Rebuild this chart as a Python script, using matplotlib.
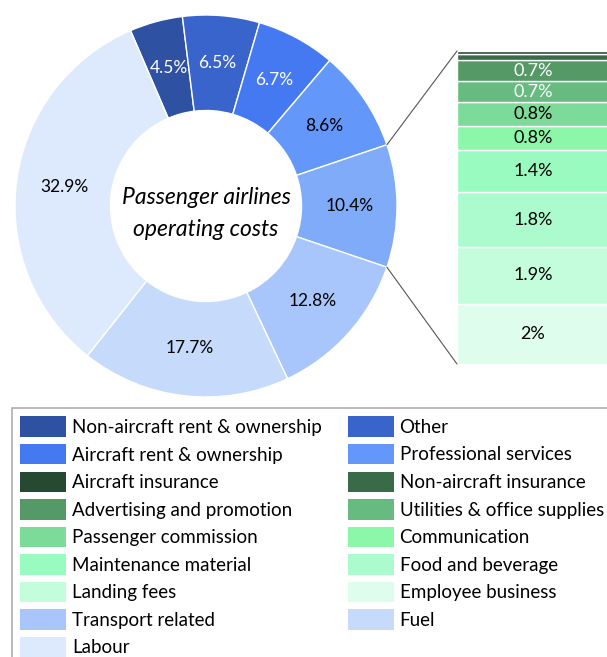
import matplotlib.pyplot as plt
from matplotlib.patches import ConnectionPatch, Patch
import numpy as np

plt.rcParams['font.family'] = ['Lato', 'DejaVu Sans']

# donut slices, clockwise from the top
pie_labels = ['Non-aircraft rent & ownership', 'Other', 'Aircraft rent & ownership',
              'Professional services', 'Smaller items', 'Transport related', 'Fuel', 'Labour']
pie_values = [4.5, 6.5, 6.7, 8.6, 10.4, 12.8, 17.7, 32.9]
pie_colors = ['#2e51a2', '#3964cc', '#4479f2', '#6398fa', '#7fabf8', '#a8c6fb', '#c6dafb', '#dde9fc']
pie_text = ['white', 'white', 'white', 'black', 'black', 'black', 'black', 'black']

# breakdown of the 10.4% slice, bottom to top
bar_labels = ['Employee business', 'Landing fees', 'Food and beverage', 'Maintenance material',
              'Communication', 'Passenger commission', 'Utilities & office supplies',
              'Advertising and promotion', 'Non-aircraft insurance', 'Aircraft insurance']
bar_values = [2, 1.9, 1.8, 1.4, 0.8, 0.8, 0.7, 0.7, 0.2, 0.1]
bar_colors = ['#dffdec', '#c4fddc', '#acfbcf', '#9afbc0', '#8cf7a8', '#7cdb98',
              '#67bb80', '#559966', '#3a6b48', '#254a31']
bar_text = ['black', 'black', 'black', 'black', 'black', 'black', 'white', 'white', None, None]

legend_order = ['Non-aircraft rent & ownership', 'Other', 'Aircraft rent & ownership',
                'Professional services', 'Aircraft insurance', 'Non-aircraft insurance',
                'Advertising and promotion', 'Utilities & office supplies', 'Passenger commission',
                'Communication', 'Maintenance material', 'Food and beverage', 'Landing fees',
                'Employee business', 'Transport related', 'Fuel', 'Labour']

W, H = 607, 657
fig = plt.figure(figsize=(W / 100, H / 100), dpi=100)

# donut
cx, cy, r = 206, 206, 191
ax = fig.add_axes([(cx - r) / W, (H - cy - r) / H, 2 * r / W, 2 * r / H])

start = 360 * (sum(pie_values[:4]) + pie_values[4] / 2) / sum(pie_values)
wedges, _ = ax.pie(pie_values, colors=pie_colors, startangle=start, counterclock=False,
                   radius=1, wedgeprops=dict(width=0.5, edgecolor='white', linewidth=1))
ax.set_xlim(-1, 1)
ax.set_ylim(-1, 1)
ax.axis('off')
for w, v, tc in zip(wedges, pie_values, pie_text):
    ang = np.deg2rad((w.theta1 + w.theta2) / 2)
    ax.text(0.75 * np.cos(ang), 0.75 * np.sin(ang), f'{v:g}%', ha='center', va='center',
            fontsize=12.5, color=tc)
ax.text(0.0, -0.04, 'Passenger airlines\noperating costs', ha='center', va='center',
        fontsize=16.5, style='italic', linespacing=1.65)

# stacked bar
bx0, bx1, by0, by1 = 457, 609, 51, 364
bax = fig.add_axes([bx0 / W, (H - by1) / H, (bx1 - bx0) / W, (by1 - by0) / H])
bottom = 0
for v, c, tc in zip(bar_values, bar_colors, bar_text):
    rects = bax.bar(0, v, bottom=bottom, width=1, color=c, edgecolor='white', linewidth=1)
    if tc:
        bax.bar_label(rects, labels=[f'{v:g}%'], label_type='center', fontsize=13, color=tc)
    bottom += v
bax.set_xlim(-0.5, 0.5)
bax.set_ylim(0, sum(bar_values))
bax.axis('off')

# connector lines
w = wedges[4]
for theta, y in [(w.theta2, sum(bar_values)), (w.theta1, 0)]:
    t = np.deg2rad(theta)
    con = ConnectionPatch(xyA=(np.cos(t), np.sin(t)), coordsA=ax.transData,
                          xyB=(-0.5, y), coordsB=bax.transData, color='#555555', linewidth=0.8)
    fig.add_artist(con)

# legend
color_map = dict(zip(pie_labels + bar_labels, pie_colors + bar_colors))
col1 = legend_order[0::2]
col2 = legend_order[1::2]
handles = [Patch(facecolor=color_map[n], edgecolor='none', label=n) for n in col1 + col2]
leg = fig.legend(handles=handles, loc='upper left', bbox_to_anchor=(12 / W, 1 - 408 / H),
                 ncol=2, fontsize=13.5, frameon=True, fancybox=False, edgecolor='#999999',
                 handlelength=2.45, handleheight=1.3, handletextpad=0.3, columnspacing=1.4,
                 labelspacing=0.38, borderpad=0.45, borderaxespad=0)
leg.get_frame().set_linewidth(1.2)

fig.savefig('out.png', dpi=100)
